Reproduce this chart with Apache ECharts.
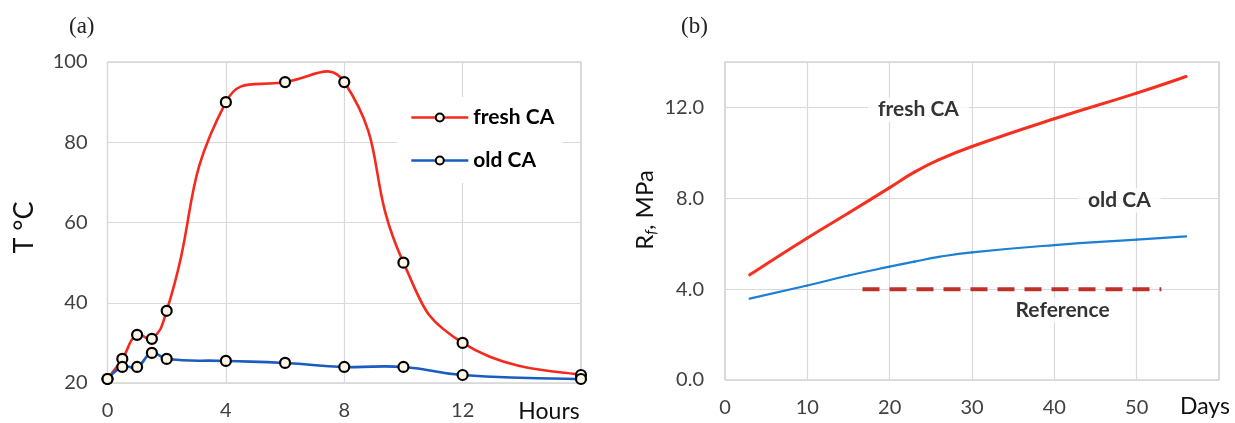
<!DOCTYPE html>
<html>
<head>
<meta charset="utf-8">
<script src="https://cdn.jsdelivr.net/npm/echarts@6/dist/echarts.min.js"></script>
<style>
html,body{margin:0;padding:0;background:#fff;}
#c{width:1235px;height:423px;}
</style>
</head>
<body>
<div id="c"></div>
<script>
// ---- Panel (a) data ----
var hoursA = [0, 0.5, 1, 1.5, 2, 4, 6, 8, 10, 12, 16];
var freshA = [21, 26, 32, 31, 38, 90, 95, 95, 50, 30, 22];
var oldA   = [21, 24, 24, 27.5, 26, 25.5, 25, 24, 24, 22, 21];
var ticksA = [0, 4, 8, 12];

// ---- Panel (b) data ----
var daysB  = [3, 10, 15, 20, 23, 26, 30, 40, 50, 56];
var freshB = [4.63, 6.25, 7.35, 8.47, 9.15, 9.7, 10.28, 11.5, 12.63, 13.36];
var oldB   = [3.58, 4.16, 4.6, 4.99, 5.21, 5.42, 5.62, 5.94, 6.18, 6.32];
var refDays = [16.7, 53];
var refValue = 4.0;
var annotB = [
  {name: 'fresh CA', day: 23.5, value: 11.9},
  {name: 'old CA', day: 47.9, value: 7.91},
  {name: 'Reference', day: 41, value: 3.07}
];

function pairs(xs, ys) { return xs.map(function (x, i) { return [x, ys[i]]; }); }

var FONT = 'Lato, "Noto Sans", sans-serif';
var SERIF = '"Liberation Serif", "DejaVu Serif", serif';
var tickColor = '#404040';
var gridLine = '#d9d9d9';
var border = '#bfbfbf';
var redA = '#f52a1e', blueA = '#1a5cbf';
var redB = '#f5301f', blueB = '#1c7fd4';

var markerStyle = {color: '#fff6e6', borderColor: '#000', borderWidth: 2.2};

// Smoothed (spreadsheet-like) curve through the data points: one Bezier segment per point,
// positioned through the axes with api.coord; tangent handles weighted by segment length.
function curveSeries(name, xs, ys, xi, yi, color, width) {
  return {
    name: name, type: 'custom', xAxisIndex: xi, yAxisIndex: yi,
    data: pairs(xs, ys), encode: {x: 0, y: 1}, z: 2, silent: true,
    renderItem: function (params, api) {
      var i = params.dataIndex, n = xs.length;
      if (i >= n - 1) return null;
      function P(j) { j = Math.max(0, Math.min(n - 1, j)); return api.coord([xs[j], ys[j]]); }
      function d(a, b) { return Math.sqrt((a[0] - b[0]) * (a[0] - b[0]) + (a[1] - b[1]) * (a[1] - b[1])); }
      var p0 = P(i - 1), p1 = P(i), p2 = P(i + 1), p3 = P(i + 2);
      var s = 0.5;
      var d01 = d(p0, p1), d12 = d(p1, p2), d23 = d(p2, p3);
      var f1 = (d01 + d12) > 0 ? s * d12 / (d01 + d12) : 0;
      var f2 = (d12 + d23) > 0 ? s * d12 / (d12 + d23) : 0;
      if (i === 0) f1 = s * 0.5 * 0.5;
      if (i === n - 2) f2 = s * 0.5 * 0.5;
      return {
        type: 'bezierCurve',
        shape: {
          x1: p1[0], y1: p1[1], x2: p2[0], y2: p2[1],
          cpx1: p1[0] + (p2[0] - p0[0]) * f1, cpy1: p1[1] + (p2[1] - p0[1]) * f1,
          cpx2: p2[0] - (p3[0] - p1[0]) * f2, cpy2: p2[1] - (p3[1] - p1[1]) * f2
        },
        style: {stroke: color, lineWidth: width, fill: null, lineCap: 'round'}
      };
    }
  };
}

var chart = echarts.init(document.getElementById('c'), null, {renderer: 'canvas'});
chart.setOption({
  animation: false,
  backgroundColor: '#fff',
  title: [
    {text: '(a)', left: 64, top: 10, textStyle: {fontFamily: SERIF, fontSize: 23, fontWeight: 'normal', color: '#222'}},
    {text: '(b)', left: 676, top: 10, textStyle: {fontFamily: SERIF, fontSize: 23, fontWeight: 'normal', color: '#222'}}
  ],
  grid: [
    {left: 107.5, top: 62, width: 473.5, height: 321, show: true, borderColor: border, borderWidth: 1.2, backgroundColor: 'transparent'},
    {left: 725, top: 62, width: 494, height: 318, show: true, borderColor: border, borderWidth: 1.2, backgroundColor: 'transparent'}
  ],
  legend: {
    data: [
      {name: 'fresh CA', lineStyle: {color: redA, width: 2.6, opacity: 1}},
      {name: 'old CA', lineStyle: {color: blueA, width: 2.6, opacity: 1}}
    ],
    orient: 'vertical',
    left: 397, top: 97,
    backgroundColor: '#fff',
    padding: [10, 8, 12, 13],
    itemWidth: 57, itemHeight: 10,
    itemGap: 22,
    textStyle: {fontFamily: FONT, fontSize: 21, fontWeight: 'bold', color: '#000', lineHeight: 21}
  },
  xAxis: [
    {
      gridIndex: 0, type: 'value', min: 0, max: 16, interval: 4,
      axisLine: {show: false}, axisTick: {show: false},
      splitLine: {show: true, lineStyle: {color: gridLine, width: 1.2}},
      axisLabel: {
        fontFamily: FONT, fontSize: 20, color: tickColor, margin: 18,
        formatter: function (v) { return ticksA.indexOf(v) >= 0 ? String(v) : ''; }
      },
      name: 'Hours', nameLocation: 'end', nameGap: -32,
      nameTextStyle: {fontFamily: FONT, fontSize: 23, color: '#111', align: 'center', verticalAlign: 'top', padding: [17, 0, 0, 0]}
    },
    {
      gridIndex: 1, type: 'value', min: 0, max: 60, interval: 10,
      axisLine: {show: false}, axisTick: {show: false},
      splitLine: {show: true, lineStyle: {color: gridLine, width: 1.2}},
      axisLabel: {
        fontFamily: FONT, fontSize: 20, color: tickColor, margin: 18,
        formatter: function (v) { return v < 60 ? String(v) : ''; }
      },
      name: 'Days', nameLocation: 'end', nameGap: -14,
      nameTextStyle: {fontFamily: FONT, fontSize: 23, color: '#111', align: 'center', verticalAlign: 'top', padding: [15, 0, 0, 0]}
    }
  ],
  yAxis: [
    {
      gridIndex: 0, type: 'value', min: 20, max: 100, interval: 20,
      axisLine: {show: false}, axisTick: {show: false},
      splitLine: {show: true, lineStyle: {color: gridLine, width: 1.2}},
      axisLabel: {fontFamily: FONT, fontSize: 20, color: tickColor, margin: 20},
      name: 'T °C', nameLocation: 'middle', nameGap: 70,
      nameTextStyle: {fontFamily: FONT, fontSize: 27, color: '#111', padding: [0, 0, 0, -10]}
    },
    {
      gridIndex: 1, type: 'value', min: 0, max: 14, interval: 4,
      axisLine: {show: false}, axisTick: {show: false},
      splitLine: {show: true, lineStyle: {color: gridLine, width: 1.2}},
      axisLabel: {
        fontFamily: FONT, fontSize: 20, color: tickColor, margin: 21,
        formatter: function (v) { return v <= 12 ? v.toFixed(1) : ''; }
      },
      name: 'R{sub|f}, MPa', nameLocation: 'middle', nameGap: 66,
      nameTextStyle: {
        fontFamily: FONT, fontSize: 24, color: '#111', padding: [0, 0, 0, 22],
        rich: {sub: {fontFamily: FONT, fontSize: 15, fontStyle: 'italic', color: '#111', verticalAlign: 'bottom', padding: [12, 0, 0, 0]}}
      }
    }
  ],
  series: [
    curveSeries('fresh CA curve', hoursA, freshA, 0, 0, redA, 2.6),
    curveSeries('old CA curve', hoursA, oldA, 0, 0, blueA, 2.6),
    {
      name: 'fresh CA', type: 'line', xAxisIndex: 0, yAxisIndex: 0,
      data: pairs(hoursA, freshA),
      symbol: 'circle', symbolSize: 10,
      lineStyle: {color: redA, width: 2.6, opacity: 0},
      itemStyle: markerStyle, z: 3
    },
    {
      name: 'old CA', type: 'line', xAxisIndex: 0, yAxisIndex: 0,
      data: pairs(hoursA, oldA),
      symbol: 'circle', symbolSize: 10,
      lineStyle: {color: blueA, width: 2.6, opacity: 0},
      itemStyle: markerStyle, z: 4
    },
    curveSeries('fresh CA (b)', daysB, freshB, 1, 1, redB, 3),
    curveSeries('old CA (b)', daysB, oldB, 1, 1, blueB, 2.2),
    {
      name: 'Reference', type: 'line', xAxisIndex: 1, yAxisIndex: 1,
      data: refDays.map(function (d) { return [d, refValue]; }), showSymbol: false,
      lineStyle: {color: '#c0302b', width: 4, type: [17, 10]}
    },
    {
      name: 'labels (b)', type: 'scatter', xAxisIndex: 1, yAxisIndex: 1,
      symbolSize: 0, z: 6,
      data: annotB.map(function (a) { return {name: a.name, value: [a.day, a.value]}; }),
      label: {
        show: true, position: 'inside', formatter: '{b}',
        fontFamily: FONT, fontSize: 21, fontWeight: 'bold', color: '#000',
        backgroundColor: '#fff', padding: [2, 10, 2, 10]
      }
    }
  ]
});
</script>
</body>
</html>
